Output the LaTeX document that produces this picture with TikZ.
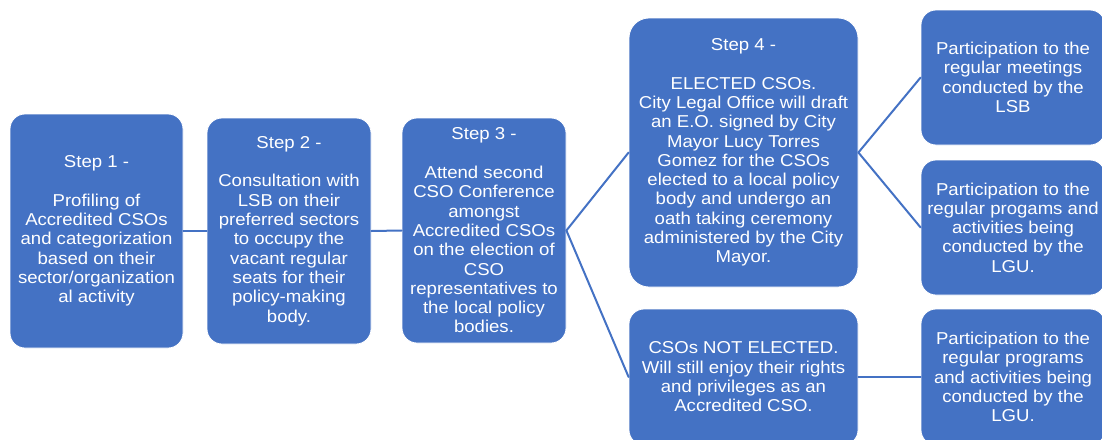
\documentclass[tikz,border=0pt]{standalone}
\usepackage{fontspec}
\setmainfont{Liberation Sans}[FakeStretch=1.08]
\definecolor{stepblue}{HTML}{4472C4}

\begin{document}
\begin{tikzpicture}[x=1pt, y=-1pt, line cap=round,
    stepbox/.style={draw=white, line width=.8pt, fill=stepblue, rounded corners=15pt,
      text=white, align=center, inner sep=0pt,
      font=\fontsize{17.2}{19.3}\selectfont},
    link/.style={draw=stepblue, line width=2pt}]
  \useasboundingbox (0,0) rectangle (1102,439);
  % steps
  \node[stepbox, minimum width=173pt, minimum height=234pt] (s1) at (96.5,231)
    {Step 1 -\\[19.3pt]Profiling of\\Accredited CSOs\\and categorization\\based on their\\sector/organization\\al activity};
  \node[stepbox, minimum width=164pt, minimum height=226pt] (s2) at (289,231)
    {Step 2 -\\[19.3pt]Consultation with\\LSB on their\\preferred sectors\\to occupy the\\vacant regular\\seats for their\\policy-making\\body.};
  \node[stepbox, minimum width=164pt, minimum height=225pt] (s3) at (484,230.5)
    {Step 3 -\\[19.3pt]Attend second\\CSO Conference\\amongst\\Accredited CSOs\\on the election of\\CSO\\representatives to\\the local policy\\bodies.};
  % outcomes
  \node[stepbox, rounded corners=20pt, minimum width=229pt, minimum height=269pt] (s4) at (743.5,152.5)
    {Step 4 -\\[19.3pt]ELECTED CSOs.\\City Legal Office will draft\\an E.O. signed by City\\Mayor Lucy Torres\\Gomez for the CSOs\\elected to a local policy\\body and undergo an\\oath taking ceremony\\administered by the City\\Mayor.};
  \node[stepbox, minimum width=229pt, minimum height=136pt] (s5) at (743.5,377)
    {CSOs NOT ELECTED.\\Will still enjoy their rights\\and privileges as an\\Accredited CSO.};
  % participation
  \node[stepbox, minimum width=184pt, minimum height=135pt] (r1) at (1013,77.5)
    {Participation to the\\regular meetings\\conducted by the\\LSB};
  \node[stepbox, minimum width=184pt, minimum height=135pt] (r2) at (1013,227.5)
    {Participation to the\\regular progams and\\activities being\\conducted by the\\LGU.};
  \node[stepbox, minimum width=184pt, minimum height=136pt] (r3) at (1013,377)
    {Participation to the\\regular programs\\and activities being\\conducted by the\\LGU.};
  % links
  \draw[link] (s1.east) -- (s2.west);
  \draw[link] (s2.east) -- (s3.west);
  \foreach \t in {s4,s5} {
    \draw[link] (s3.east) -- (\t.west);
  }
  \foreach \t in {r1,r2} {
    \draw[link] (s4.east) -- (\t.west);
  }
  \draw[link] (s5.east) -- (r3.west);
\end{tikzpicture}
\end{document}
